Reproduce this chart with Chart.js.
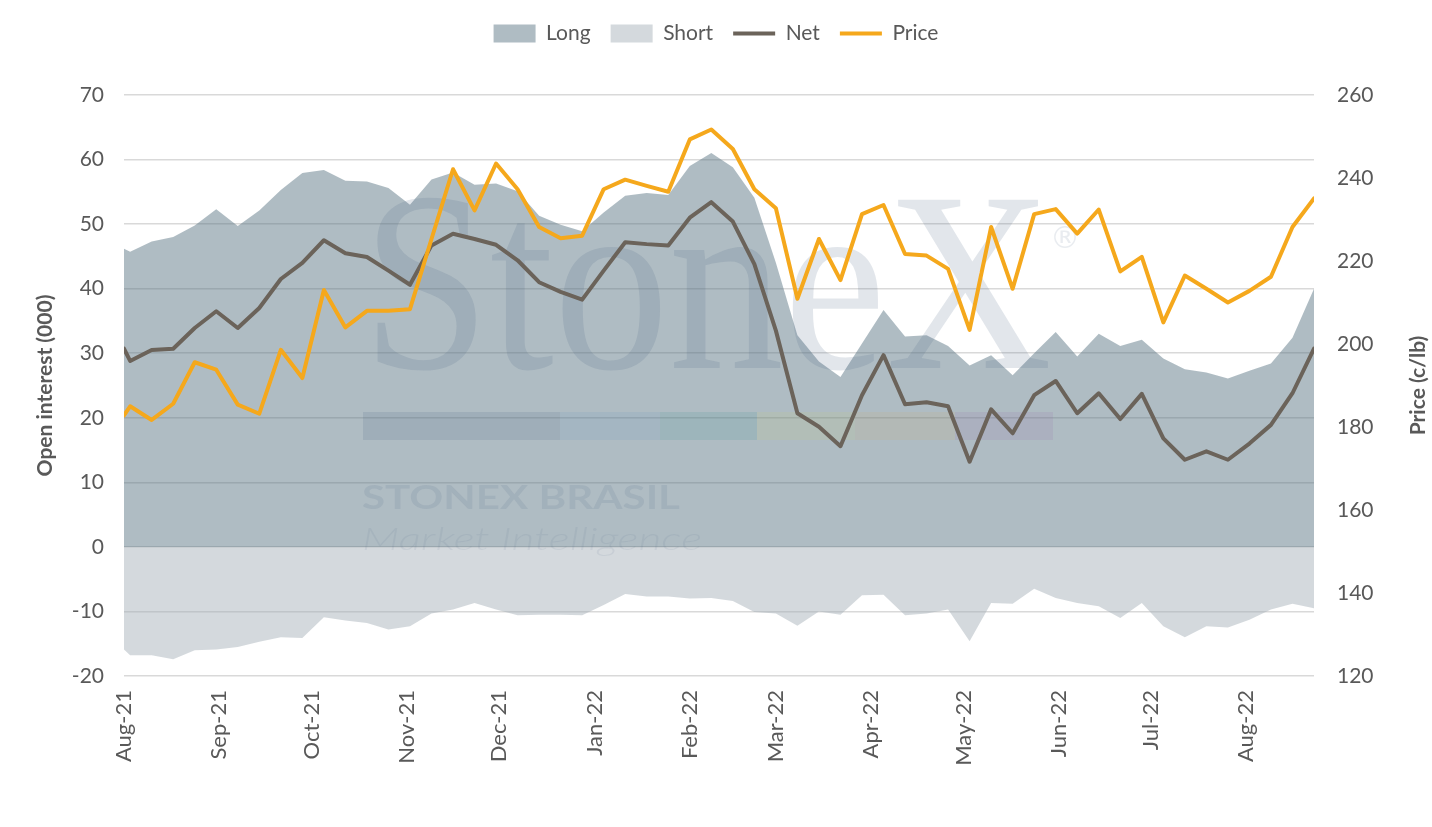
<!DOCTYPE html>
<html>
<head>
<meta charset="utf-8">
<script src="https://cdn.jsdelivr.net/npm/chart.js@4.4.0/dist/chart.umd.min.js"></script>
<style>
html,body{margin:0;padding:0;background:#fff;}
#wrap{width:1432px;height:827px;position:relative;}
</style>
</head>
<body>
<div id="wrap"><canvas id="c" width="1432" height="827"></canvas></div>
<script>
const dates = ['2021-08-01','2021-08-03','2021-08-10','2021-08-17','2021-08-24','2021-08-31','2021-09-07','2021-09-14','2021-09-21','2021-09-28','2021-10-05','2021-10-12','2021-10-19','2021-10-26','2021-11-02','2021-11-09','2021-11-16','2021-11-23','2021-11-30','2021-12-07','2021-12-14','2021-12-21','2021-12-28','2022-01-04','2022-01-11','2022-01-18','2022-01-25','2022-02-01','2022-02-08','2022-02-15','2022-02-22','2022-03-01','2022-03-08','2022-03-15','2022-03-22','2022-03-29','2022-04-05','2022-04-12','2022-04-19','2022-04-26','2022-05-03','2022-05-10','2022-05-17','2022-05-24','2022-05-31','2022-06-07','2022-06-14','2022-06-21','2022-06-28','2022-07-05','2022-07-12','2022-07-19','2022-07-26','2022-08-02','2022-08-09','2022-08-16','2022-08-23'];

const longOI = [46.2,45.7,47.3,48.0,49.8,52.3,49.7,52.1,55.3,57.9,58.4,56.7,56.6,55.6,53.0,
  56.9,58.0,56.1,56.3,55.1,51.3,49.9,48.9,51.8,54.4,54.8,54.5,59.0,61.0,58.8,
  54.1,44.0,32.8,28.7,26.3,31.5,36.7,32.6,32.8,31.1,28.1,29.7,26.6,30.0,
  33.3,29.5,33.0,31.1,32.1,29.2,27.5,27.0,26.1,27.3,28.4,32.4,40.0];

const shortOI = [-15.9,-16.8,-16.8,-17.4,-16.0,-15.9,-15.5,-14.7,-14.0,-14.1,-10.9,-11.4,-11.8,-12.8,-12.3,
  -10.3,-9.7,-8.7,-9.7,-10.6,-10.5,-10.5,-10.6,-9.0,-7.3,-7.7,-7.7,-8.0,-7.9,-8.4,
  -10.1,-10.3,-12.2,-10.0,-10.5,-7.5,-7.4,-10.6,-10.3,-9.7,-14.6,-8.7,-8.8,-6.5,
  -7.9,-8.7,-9.2,-11.0,-8.7,-12.3,-14.0,-12.3,-12.5,-11.3,-9.7,-8.8,-9.5];

const netOI = [30.7,28.8,30.5,30.7,33.9,36.5,33.9,37.0,41.5,44.0,47.5,45.5,44.9,42.8,40.6,
  46.7,48.5,47.7,46.8,44.4,41.0,39.5,38.3,42.8,47.2,46.9,46.7,51.0,53.4,50.4,
  43.8,33.5,20.7,18.6,15.6,23.5,29.7,22.1,22.4,21.8,13.2,21.3,17.6,23.5,
  25.7,20.7,23.8,19.8,23.7,16.8,13.5,14.8,13.5,16.0,18.9,23.8,30.7];

const price = [182.8,185.0,181.7,185.6,195.6,193.8,185.4,183.2,198.6,191.8,213.0,204.0,208.0,208.0,208.4,
  225.3,242.1,232.2,243.5,237.3,228.2,225.5,226.1,237.3,239.6,238.1,236.7,249.3,251.7,247.0,
  237.3,232.7,210.9,225.3,215.4,231.3,233.5,221.7,221.3,218.1,203.4,228.2,213.3,231.3,
  232.5,226.6,232.4,217.5,221.0,205.2,216.5,213.3,210.0,212.8,216.2,228.2,235.1];

const monthTickDates = ['2021-08-01','2021-09-01','2021-10-01','2021-11-01','2021-12-01','2022-01-01','2022-02-01','2022-03-01','2022-04-01','2022-05-01','2022-06-01','2022-07-01','2022-08-01'];
const monthTickLabels = ['Aug-21','Sep-21','Oct-21','Nov-21','Dec-21','Jan-22','Feb-22','Mar-22','Apr-22','May-22','Jun-22','Jul-22','Aug-22'];

const seriesNames = ['Long','Short','Net','Price'];
const leftTitle = 'Open interest (000)';
const rightTitle = 'Price (c/lb)';

const dayNum = s => Date.parse(s + 'T00:00:00Z') / 86400000;
const xs = dates.map(dayNum);
const pts = arr => arr.map((v, i) => ({x: xs[i], y: v}));
const tickDays = monthTickDates.map(dayNum);

const FONT = 'Lato';
const TXT = '#595959';

const watermark = {
  id: 'watermark',
  afterDatasetDraw(chart, args) {
    if (args.index !== 1) return;
    const ctx = chart.ctx;
    ctx.save();
    ctx.fillStyle = 'rgba(75,102,128,0.16)';
    ctx.font = '257px "Liberation Serif"';
    ctx.textBaseline = 'alphabetic';
    ctx.textAlign = 'left';
    let w = ctx.measureText('StoneX').width;
    ctx.save();
    ctx.translate(362, 368);
    ctx.scale(690 / w, 1);
    ctx.fillText('StoneX', 0, 0);
    ctx.restore();
    ctx.font = '30px "DejaVu Sans"';
    ctx.fillStyle = 'rgba(75,102,128,0.12)';
    ctx.fillText('\u00AE', 1050, 248);
    const segs = [
      [363, 560, 'rgba(75,102,128,0.16)'],
      [560, 660, 'rgba(80,140,190,0.12)'],
      [660, 757, 'rgba(60,140,140,0.16)'],
      [757, 855, 'rgba(190,200,120,0.16)'],
      [855, 955, 'rgba(200,170,110,0.16)'],
      [955, 1053, 'rgba(150,110,170,0.16)']
    ];
    segs.forEach(s => { ctx.fillStyle = s[2]; ctx.fillRect(s[0], 412, s[1] - s[0], 28); });
    ctx.fillStyle = 'rgba(75,102,128,0.13)';
    ctx.font = 'bold 32px Lato';
    w = ctx.measureText('STONEX BRASIL').width;
    ctx.save();
    ctx.translate(362, 509);
    ctx.scale(318 / w, 1);
    ctx.fillText('STONEX BRASIL', 0, 0);
    ctx.restore();
    ctx.fillStyle = 'rgba(75,102,128,0.09)';
    ctx.font = 'italic 300 32px Lato';
    w = ctx.measureText('Market Intelligence').width;
    ctx.save();
    ctx.translate(362, 550);
    ctx.scale(340 / w, 1);
    ctx.fillText('Market Intelligence', 0, 0);
    ctx.restore();
    ctx.restore();
  },
  afterDraw(chart) {
    const ctx = chart.ctx;
    const a = chart.chartArea;
    ctx.save();
    ctx.translate(chart.width - 14, (a.top + a.bottom) / 2);
    ctx.rotate(-Math.PI / 2);
    ctx.textAlign = 'center';
    ctx.textBaseline = 'middle';
    ctx.font = 'bold 21px ' + FONT;
    ctx.fillStyle = TXT;
    ctx.fillText(rightTitle, 0, 0);
    ctx.restore();
  }
};

new Chart(document.getElementById('c'), {
  type: 'line',
  data: {
    datasets: [
      {label: seriesNames[0], data: pts(longOI), xAxisID: 'x', yAxisID: 'yL', order: 3,
       backgroundColor: 'rgba(85,113,128,0.47)', borderColor: 'transparent', borderWidth: 0,
       fill: 'origin', pointRadius: 0, pointHoverRadius: 0, pointStyle: 'rect', tension: 0},
      {label: seriesNames[1], data: pts(shortOI), xAxisID: 'x', yAxisID: 'yL', order: 2,
       backgroundColor: 'rgba(164,174,183,0.47)', borderColor: 'transparent', borderWidth: 0,
       fill: 'origin', pointRadius: 0, pointHoverRadius: 0, pointStyle: 'rect', tension: 0},
      {label: seriesNames[2], data: pts(netOI), xAxisID: 'x', yAxisID: 'yL', order: 1,
       borderColor: '#6b635a', backgroundColor: '#6b635a', borderWidth: 4, fill: false,
       pointRadius: 0, pointHoverRadius: 0, pointStyle: 'line', tension: 0,
       borderJoinStyle: 'round', borderCapStyle: 'round'},
      {label: seriesNames[3], data: pts(price), xAxisID: 'x', yAxisID: 'yR', order: 0,
       borderColor: '#f5a81c', backgroundColor: '#f5a81c', borderWidth: 4, fill: false,
       pointRadius: 0, pointHoverRadius: 0, pointStyle: 'line', tension: 0,
       borderJoinStyle: 'round', borderCapStyle: 'round'}
    ]
  },
  options: {
    responsive: false,
    animation: false,
    events: [],
    layout: {padding: {top: 3, left: 0, right: 0, bottom: 0}},
    plugins: {
      legend: {
        position: 'top',
        labels: {
          usePointStyle: true, pointStyleWidth: 42, boxHeight: 18, padding: 20,
          color: TXT, font: {family: FONT, size: 21},
          sort: (a, b) => a.datasetIndex - b.datasetIndex
        }
      },
      tooltip: {enabled: false}
    },
    scales: {
      x: {
        type: 'linear', position: 'bottom',
        min: xs[0], max: xs[xs.length - 1], offset: false,
        grid: {display: false, drawTicks: false}, border: {display: false},
        afterBuildTicks: s => { s.ticks = tickDays.map(v => ({value: v})); },
        ticks: {
          autoSkip: false, maxRotation: 90, minRotation: 90, padding: 14,
          color: TXT, font: {family: FONT, size: 22},
          callback: (v) => { const i = tickDays.indexOf(v); return i >= 0 ? monthTickLabels[i] : ''; }
        },
        afterFit: s => { s.height = 151; }
      },
      yL: {
        type: 'linear', position: 'left', min: -20, max: 70,
        grid: {color: '#d9d9d9', lineWidth: 1.6, drawTicks: false}, border: {display: false},
        ticks: {stepSize: 10, padding: 20, color: TXT, font: {family: FONT, size: 21}},
        title: {display: true, text: leftTitle, color: TXT, font: {family: FONT, size: 21, weight: 'bold'}, padding: {top: 33, bottom: 0}},
        afterFit: s => { s.width = 124; }
      },
      yR: {
        type: 'linear', position: 'right', min: 120, max: 260,
        grid: {display: false, drawTicks: false}, border: {display: false},
        ticks: {stepSize: 20, padding: 23, color: TXT, font: {family: FONT, size: 21}},
        afterFit: s => { s.width = 118; }
      },
      xTop: {
        type: 'linear', position: 'top', display: true,
        grid: {display: false, drawTicks: false}, border: {display: false},
        ticks: {display: false},
        afterFit: s => { s.height = 41; }
      }
    }
  },
  plugins: [watermark]
});
</script>
</body>
</html>
